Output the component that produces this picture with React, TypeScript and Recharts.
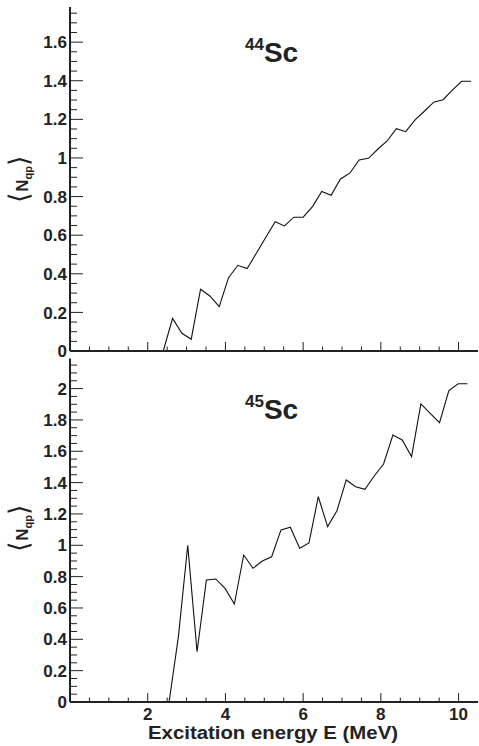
import React from 'react';
import { LineChart, Line, XAxis, YAxis } from 'recharts';

// mean number of quasiparticles vs excitation energy
const energy44 = [
  2.40, 2.64, 2.88, 3.12, 3.36, 3.60, 3.84, 4.08, 4.32, 4.56, 4.80, 5.04,
  5.28, 5.52, 5.76, 6.00, 6.24, 6.48, 6.72, 6.96, 7.20, 7.44, 7.68, 7.92,
  8.16, 8.40, 8.64, 8.88, 9.12, 9.36, 9.60, 9.84, 10.08, 10.32,
];
const nqp44 = [
  0, 0.169, 0.092, 0.061, 0.320, 0.285, 0.230, 0.380, 0.444, 0.427, 0.508, 0.589,
  0.670, 0.648, 0.693, 0.693, 0.748, 0.826, 0.807, 0.891, 0.921, 0.990, 0.998, 1.045,
  1.088, 1.152, 1.136, 1.197, 1.242, 1.289, 1.302, 1.351, 1.397, 1.397,
];

const energy45 = [
  2.55, 2.79, 3.03, 3.27, 3.51, 3.75, 3.99, 4.23, 4.47, 4.71, 4.95, 5.19,
  5.43, 5.67, 5.91, 6.15, 6.39, 6.63, 6.87, 7.11, 7.35, 7.59, 7.83, 8.07,
  8.31, 8.55, 8.79, 9.03, 9.27, 9.51, 9.75, 9.99, 10.23,
];
const nqp45 = [
  0, 0.417, 1.0, 0.321, 0.779, 0.785, 0.725, 0.625, 0.938, 0.853, 0.900, 0.927,
  1.098, 1.115, 0.981, 1.015, 1.310, 1.119, 1.221, 1.417, 1.374, 1.357, 1.442, 1.519,
  1.704, 1.672, 1.566, 1.902, 1.842, 1.782, 1.987, 2.031, 2.031,
];

const xTickLabels = [2, 4, 6, 8, 10];
const yTickLabels44 = [0, 0.2, 0.4, 0.6, 0.8, 1, 1.2, 1.4, 1.6];
const yTickLabels45 = [0, 0.2, 0.4, 0.6, 0.8, 1, 1.2, 1.4, 1.6, 1.8, 2];

const FONT = '"Liberation Sans", Arial, Helvetica, sans-serif';
const INK = '#222';
const X_MAX = 10.5;
const PLOT_LEFT = 70;

// minor ticks every 0.5 MeV on x, every 0.05 on y
const xMinor: number[] = [];
for (let i = 1; i <= 20; i++) xMinor.push(i / 2);
const yMinor = (max: number) => {
  const out: number[] = [];
  for (let i = 0; i / 20 <= max; i++) out.push(i / 20);
  return out;
};

// ticks point inward; the axis line position is passed in explicitly
const makeXTick = (axisY: number, showLabels: boolean, major: number, minor: number) => (props: any) => {
  const { x, payload } = props;
  const v = payload.value;
  const isMajor = xTickLabels.includes(v);
  return (
    <g>
      <line x1={x} x2={x} y1={axisY} y2={axisY - (isMajor ? major : minor)} stroke={INK} strokeWidth={1} />
      {showLabels && isMajor && (
        <text x={x} y={axisY + 17.5} textAnchor="middle" fontFamily={FONT} fontWeight="bold" fontSize={17} fill={INK}>
          {v}
        </text>
      )}
    </g>
  );
};

const makeYTick = (labels: number[], major: number, minor: number) => (props: any) => {
  const { y, payload } = props;
  const v = payload.value;
  const isMajor = labels.some((l) => Math.abs(l - v) < 1e-6);
  return (
    <g>
      <line x1={PLOT_LEFT} x2={PLOT_LEFT + (isMajor ? major : minor)} y1={y} y2={y} stroke={INK} strokeWidth={1} />
      {isMajor && (
        <text x={PLOT_LEFT - 3} y={y} dy="0.36em" textAnchor="end" fontFamily={FONT} fontWeight="bold" fontSize={17} fill={INK}>
          {String(v)}
        </text>
      )}
    </g>
  );
};

interface PanelProps {
  energies: number[];
  values: number[];
  yMax: number;
  yLabels: number[];
  height: number;
  marginTop: number;
  xAxisHeight: number;
  showXLabels: boolean;
  massNumber: string;
  labelBaseline: number;
  yTitleCenter: number;
  children?: React.ReactNode;
}

const Panel: React.FC<PanelProps> = ({
  energies, values, yMax, yLabels, height, marginTop, xAxisHeight, showXLabels,
  massNumber, labelBaseline, yTitleCenter, children,
}) => {
  const data = energies.map((e, i) => ({ e, n: values[i] }));
  const axisY = height - xAxisHeight;
  return (
    <LineChart width={479} height={height} data={data} margin={{ top: marginTop, right: 1, bottom: 0, left: 0 }}>
      {/* frame lines on top and right */}
      <XAxis xAxisId="frame" orientation="top" type="number" domain={[0, X_MAX]} height={0}
        tick={false} tickLine={false} axisLine={{ stroke: '#555', strokeWidth: 1 }} />
      <YAxis yAxisId="frame" orientation="right" type="number" domain={[0, yMax]} width={0}
        tick={false} tickLine={false} axisLine={{ stroke: '#666', strokeWidth: 2 }} />
      <XAxis dataKey="e" type="number" domain={[0, X_MAX]} ticks={xMinor} interval={0}
        height={xAxisHeight} tickLine={false}
        axisLine={{ stroke: INK, strokeWidth: 2 }} tick={makeXTick(axisY, showXLabels, 9, 4.5)} />
      <YAxis type="number" domain={[0, yMax]} ticks={yMinor(yMax)} interval={0} width={PLOT_LEFT}
        tickLine={false}
        axisLine={{ stroke: INK, strokeWidth: 2 }} tick={makeYTick(yLabels, 13, 7)} />
      <Line type="linear" dataKey="n" stroke="#111" strokeWidth={1.1} dot={false}
        activeDot={false} isAnimationActive={false} />
      <text x={245} y={labelBaseline} fontFamily={FONT} fontWeight="bold" fill={INK}>
        <tspan fontSize={17} dy={-12.5}>{massNumber}</tspan>
        <tspan fontSize={28} dy={12.5}>Sc</tspan>
      </text>
      <text transform={`translate(28,${yTitleCenter}) rotate(-90)`} textAnchor="middle" fill={INK} fontFamily={FONT}>
        <tspan fontSize={27} fontFamily='"DejaVu Sans", sans-serif' fontWeight="200">⟨</tspan>
        <tspan fontSize={17} fontWeight="bold">N</tspan>
        <tspan fontSize={11} fontWeight="bold" dy={4}>qp</tspan>
        <tspan fontSize={27} fontFamily='"DejaVu Sans", sans-serif' fontWeight="200" dy={-4}>⟩</tspan>
      </text>
      {children}
    </LineChart>
  );
};

export default function App() {
  return (
    <div style={{ position: 'absolute', left: 0, top: 0, width: 479, height: 746, background: '#fff' }}>
      <div style={{ position: 'absolute', left: 0, top: 0 }}>
        <Panel energies={energy44} values={nqp44} yMax={1.782} yLabels={yTickLabels44}
          height={360} marginTop={7} xAxisHeight={9} showXLabels={false}
          massNumber="44" labelBaseline={62} yTitleCenter={179} />
      </div>
      <div style={{ position: 'absolute', left: 0, top: 355 }}>
        <Panel energies={energy45} values={nqp45} yMax={2.192} yLabels={yTickLabels45}
          height={391} marginTop={3.5} xAxisHeight={44} showXLabels={true}
          massNumber="45" labelBaseline={64} yTitleCenter={173}>
          <text x={273} y={384} textAnchor="middle" fontFamily={FONT} fontWeight="bold"
            fontSize={18} textLength={250} lengthAdjust="spacingAndGlyphs" fill={INK}>
            Excitation energy E (MeV)
          </text>
        </Panel>
      </div>
    </div>
  );
}
